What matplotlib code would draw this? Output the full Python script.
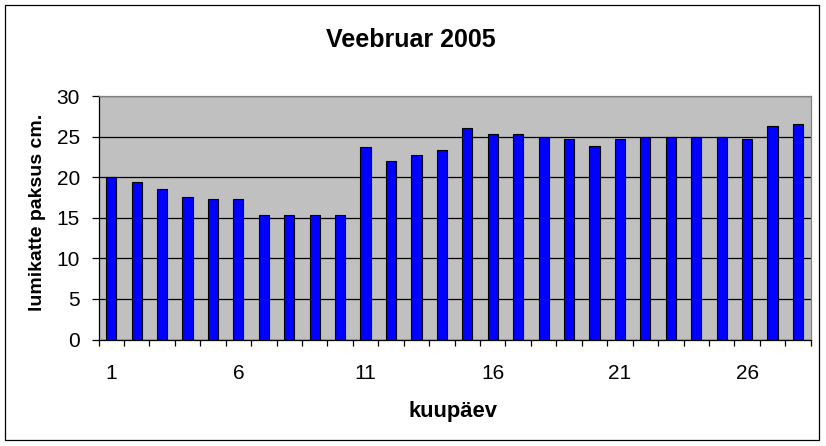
import matplotlib.pyplot as plt
from matplotlib.patches import Rectangle
from matplotlib.ticker import FixedLocator

days = list(range(1, 29))
snow_depth = [20.0, 19.4, 18.6, 17.6, 17.3, 17.3, 15.3, 15.3, 15.3, 15.3,
              23.7, 22.0, 22.7, 23.3, 26.0, 25.3, 25.3, 24.9, 24.7, 23.9,
              24.7, 24.9, 24.9, 24.9, 24.9, 24.7, 26.3, 26.6]
x_labels = [1, 6, 11, 16, 21, 26]
y_ticks = [0, 5, 10, 15, 20, 25, 30]

W, H = 826, 446
plt.rcParams['font.family'] = ['Liberation Sans', 'DejaVu Sans']

fig = plt.figure(figsize=(W / 100, H / 100), dpi=100)
fig.patches.append(Rectangle((5 / W, 6 / H), 814 / W, 435 / H, transform=fig.transFigure,
                             fill=False, edgecolor='black', linewidth=0.9))

ax = fig.add_axes([98.5 / W, (H - 339.5) / H, (810.7 - 98.5) / W, (339.5 - 96) / H])
ax.set_facecolor('#c0c0c0')
ax.set_axisbelow(True)
ax.yaxis.grid(True, color='black', linewidth=0.9)

ax.bar(days, snow_depth, width=0.4, color='#0000ff', edgecolor='black', linewidth=0.8, zorder=3)

ax.set_xlim(0.5, 28.5)
ax.set_ylim(0, 30)
ax.set_yticks(y_ticks)
ax.set_xticks(x_labels)
ax.xaxis.set_minor_locator(FixedLocator([d + 0.5 for d in range(0, 29)]))
ax.tick_params(axis='x', which='major', length=0, pad=17.5, labelsize=15)
ax.tick_params(axis='x', which='minor', direction='out', length=4.5, width=0.9)
ax.tick_params(axis='y', direction='out', length=5, width=0.9, pad=8.5, labelsize=15)

for side in ['top', 'right']:
    ax.spines[side].set_color('#808080')
    ax.spines[side].set_linewidth(0.9)
for side in ['left', 'bottom']:
    ax.spines[side].set_color('black')
    ax.spines[side].set_linewidth(0.9)

fig.text(411 / W, 1 - 40 / H, 'Veebruar 2005', ha='center', va='center', fontsize=18, fontweight='bold')
fig.text(453.5 / W, 1 - 411 / H, 'kuupäev', ha='center', va='center', fontsize=15.8, fontweight='bold')
fig.text(38 / W, 1 - 212.5 / H, 'lumikatte paksus cm.', ha='center', va='center', rotation=90,
         fontsize=14, fontweight='bold')

fig.savefig('out.png', dpi=100)
